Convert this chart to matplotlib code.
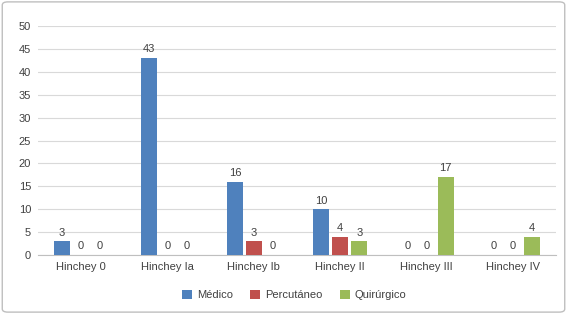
import matplotlib
matplotlib.use("Agg")
from matplotlib import pyplot as plt
from matplotlib.patches import FancyBboxPatch
import numpy as np

categories = ["Hinchey 0", "Hinchey Ia", "Hinchey Ib", "Hinchey II", "Hinchey III", "Hinchey IV"]
medico = [3, 43, 16, 10, 0, 0]
percutaneo = [0, 0, 3, 4, 0, 0]
quirurgico = [0, 0, 0, 3, 17, 4]
series_names = ["Médico", "Percutáneo", "Quirúrgico"]
colors = ["#4F81BD", "#C0504D", "#9BBB59"]

plt.rcParams['font.family'] = ['Liberation Sans', 'DejaVu Sans']

fig = plt.figure(figsize=(5.67, 3.14), dpi=100)
ax = fig.add_axes([0.067, 0.188, 0.914, 0.729])

x = np.arange(len(categories))
width = 0.185
offset = 0.22

for k, (vals, name, c) in enumerate(zip([medico, percutaneo, quirurgico], series_names, colors)):
    pos = x + (k - 1) * offset
    ax.bar(pos, vals, width, color=c, label=name, zorder=3)
    for p, v in zip(pos, vals):
        ax.text(p, v + 0.8, str(v), ha='center', va='bottom', fontsize=8, color='#404040')

ax.set_xlim(-0.5, len(categories) - 0.5)
ax.set_ylim(0, 50)
ax.set_yticks(range(0, 51, 5))
ax.set_xticks(x)
ax.set_xticklabels(categories)
ax.tick_params(axis='both', length=0, labelsize=8, colors='#404040')
ax.tick_params(axis='y', pad=5)
ax.tick_params(axis='x', pad=5)
ax.grid(axis='y', color='#D9D9D9', linewidth=0.8, zorder=0)
for s in ['top', 'right', 'left']:
    ax.spines[s].set_visible(False)
ax.spines['bottom'].set_color('#BFBFBF')

fig.legend(loc='center', bbox_to_anchor=(0.519, 0.06), ncol=3, frameon=False,
           fontsize=8, handlelength=0.9, handleheight=0.9, columnspacing=1.6,
           handletextpad=0.4, labelcolor='#404040')

border = FancyBboxPatch((0.004, 0.006), 0.992, 0.988, boxstyle="round,pad=0,rounding_size=0.01",
                        transform=fig.transFigure, fill=False, edgecolor='#BFBFBF', linewidth=1)
fig.patches.append(border)

fig.savefig("out.png", dpi=100)
